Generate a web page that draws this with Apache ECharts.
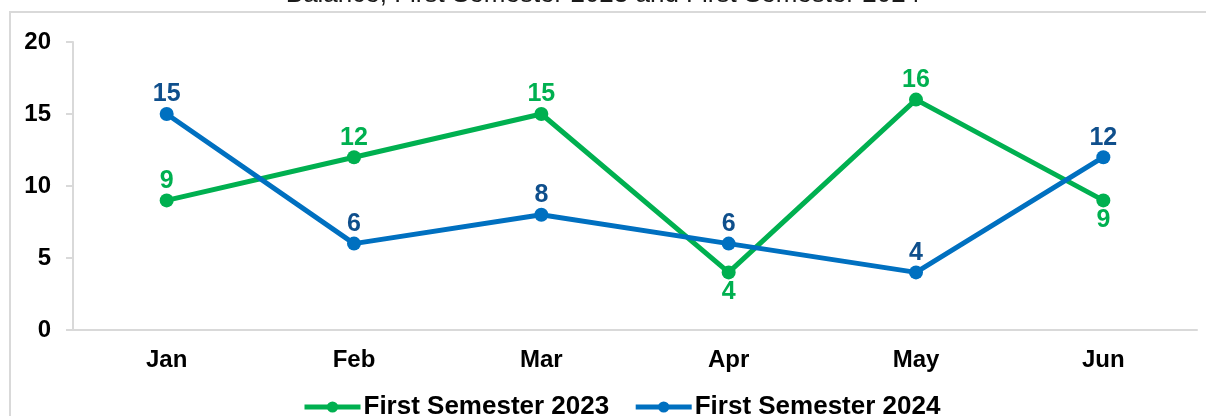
<!DOCTYPE html>
<html>
<head>
<meta charset="utf-8">
<script src="https://cdn.jsdelivr.net/npm/echarts@6/dist/echarts.min.js"></script>
<style>
  html, body { margin: 0; padding: 0; background: #fff; }
  #chart { width: 1206px; height: 416px; }
</style>
</head>
<body>
<div id="chart"></div>
<script>
var months = ['Jan', 'Feb', 'Mar', 'Apr', 'May', 'Jun'];
var sem2023 = [9, 12, 15, 4, 16, 9];
var sem2024 = [15, 6, 8, 6, 4, 12];
// where the 2023 label sits for each point
var pos2023 = ['top', 'top', 'top', 'bottom', 'top', 'bottom'];
var yTicks = [0, 5, 10, 15, 20];

var chart = echarts.init(document.getElementById('chart'));
var font = '"Liberation Sans", Arial, sans-serif';

var option = {
    animation: false,
    textStyle: { fontFamily: font },
    title: {
        text: 'Balance, First Semester 2023 and First Semester 2024',
        left: 'center',
        top: -23,
        textStyle: { fontSize: 26, fontWeight: 'normal', color: '#1a1a1a', fontFamily: font }
    },
    graphic: [{
        type: 'rect',
        shape: { x: 10, y: 12, width: 1400, height: 600 },
        style: { fill: 'none', stroke: '#d9d9d9', lineWidth: 2 },
        silent: true
    }],
    legend: {
        top: 389,
        left: 297,
        itemWidth: 56,
        itemHeight: 14,
        itemGap: 24,
        lineStyle: { width: 5 },
        textStyle: { fontSize: 26, fontWeight: 'bold', color: '#000', fontFamily: font, padding: [0, 0, 0, -2] },
        data: ['First Semester 2023', 'First Semester 2024']
    },
    grid: { left: 73, right: 9, top: 42, bottom: 86 },
    xAxis: {
        type: 'category',
        data: months,
        axisLine: { lineStyle: { color: '#d9d9d9', width: 2 } },
        axisTick: { show: false },
        axisLabel: { fontSize: 24, fontWeight: 'bold', color: '#000', margin: 18, fontFamily: font }
    },
    yAxis: {
        type: 'value',
        min: yTicks[0],
        max: yTicks[yTicks.length - 1],
        interval: 5,
        splitLine: { show: false },
        axisLine: { show: true, lineStyle: { color: '#d9d9d9', width: 2 } },
        axisTick: { show: true, length: 7, lineStyle: { color: '#d9d9d9', width: 2 } },
        axisLabel: { fontSize: 24, fontWeight: 'bold', color: '#000', margin: 22, fontFamily: font }
    },
    series: [{
        name: 'First Semester 2023',
        type: 'line',
        symbol: 'circle',
        symbolSize: 14,
        color: '#00b050',
        lineStyle: { width: 5 },
        data: sem2023.map(function (v, i) {
            return { value: v, label: { position: pos2023[i] } };
        }),
        label: {
            show: true,
            fontSize: 25,
            fontWeight: 'bold',
            color: '#00b050',
            distance: 0,
            fontFamily: font
        }
    }, {
        name: 'First Semester 2024',
        type: 'line',
        symbol: 'circle',
        symbolSize: 14,
        color: '#0070c0',
        lineStyle: { width: 5 },
        data: sem2024,
        label: {
            show: true,
            position: 'top',
            fontSize: 25,
            fontWeight: 'bold',
            color: '#0f4f8c',
            distance: 0,
            fontFamily: font
        }
    }]
};

chart.setOption(option);
</script>
</body>
</html>
